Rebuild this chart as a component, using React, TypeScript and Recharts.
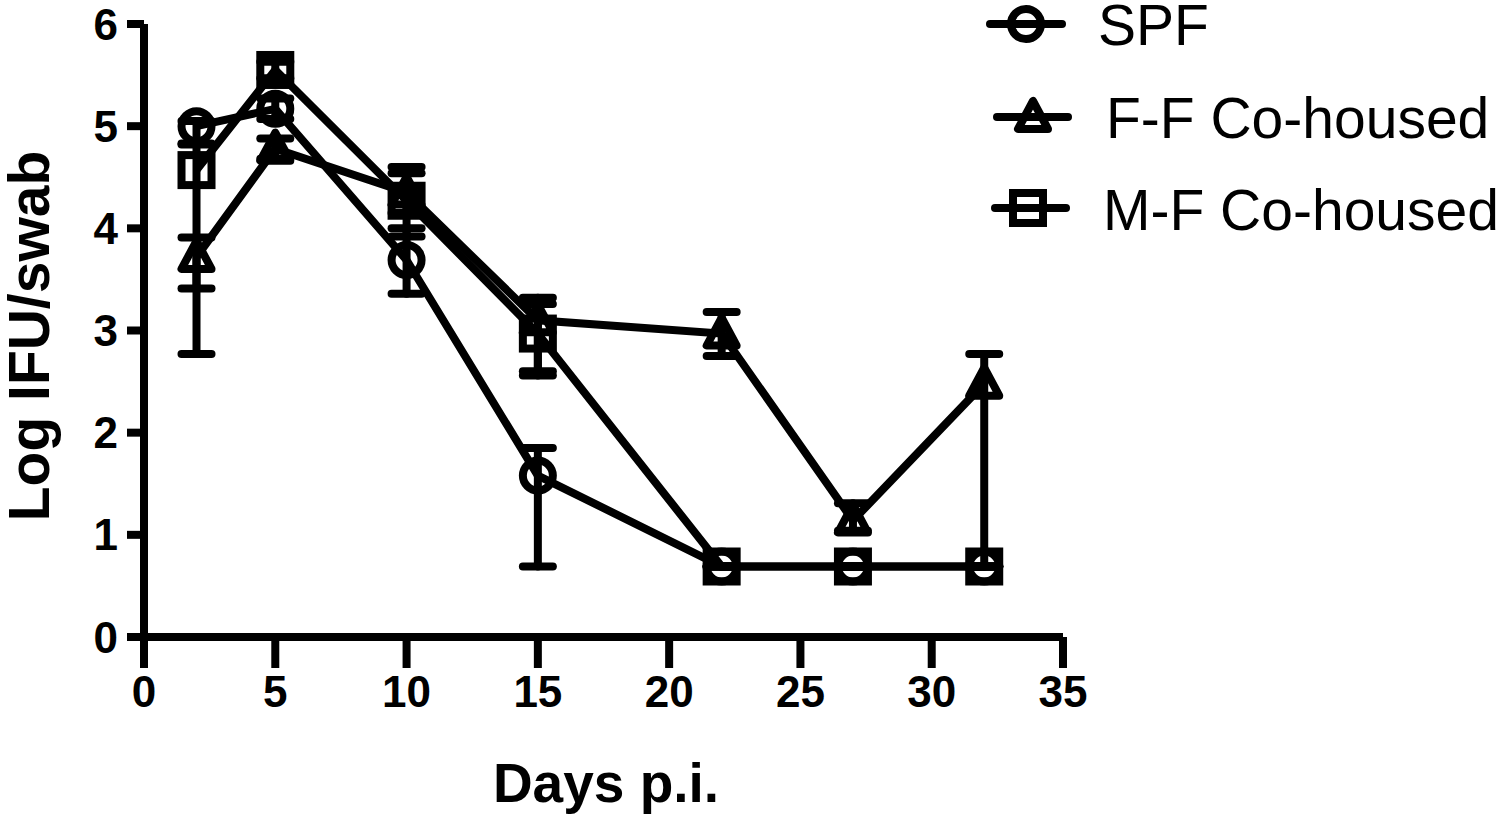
import { LineChart, Line, XAxis, YAxis, ErrorBar } from 'recharts';

const days = [2, 5, 10, 15, 22, 27, 32];
const xTicks = [0, 5, 10, 15, 20, 25, 30, 35];
const yTicks = [0, 1, 2, 3, 4, 5, 6];

// group means (log IFU/swab)
const spf = [5.0, 5.17, 3.69, 1.58, 0.69, 0.69, 0.69];
const ffCohoused = [3.72, 4.78, 4.35, 3.1, 2.97, 1.14, 2.48];
const mfCohoused = [4.57, 5.55, 4.27, 2.97, 0.69, 0.69, 0.69];

// error bars as [below, above]
const spfErr = [[0.17, 0.05], [0.1, 0.1], [0.33, 0.31], [0.89, 0.27], [0, 0], [0, 0], [0, 0]];
const ffErr = [[0.31, 0.19], [0.1, 0.1], [0.2, 0.19], [0.5, 0.16], [0.22, 0.21], [0.1, 0.17], [1.79, 0.29]];
const mfErr = [[1.8, 0.25], [0.08, 0.08], [0.35, 0.33], [0.41, 0.35], [0, 0], [0, 0], [0, 0]];

const rows = days.map((day, i) => ({
  day,
  spf: spf[i],
  spfErr: spfErr[i],
  ff: ffCohoused[i],
  ffErr: ffErr[i],
  mf: mfCohoused[i],
  mfErr: mfErr[i],
}));

const FONT = '"Liberation Sans", Arial, Helvetica, sans-serif';
const INK = '#000';

const Circle = ({ cx, cy }: { cx: number; cy: number }) => (
  <circle cx={cx} cy={cy} r={15} fill="none" stroke={INK} strokeWidth={8} />
);

const Triangle = ({ cx, cy }: { cx: number; cy: number }) => (
  <polygon
    points={`${cx},${cy - 16} ${cx - 15},${cy + 12} ${cx + 15},${cy + 12}`}
    fill="none"
    stroke={INK}
    strokeWidth={8}
    strokeLinejoin="round"
  />
);

const Square = ({ cx, cy }: { cx: number; cy: number }) => (
  <rect x={cx - 15} y={cy - 15} width={30} height={30} fill="none" stroke={INK} strokeWidth={8} />
);

const dotOf = (Shape: typeof Circle) => (p: any) => <Shape key={`d-${p.index}`} cx={p.cx} cy={p.cy} />;

const tickStyle = { fill: INK, fontSize: 44, fontWeight: 700, fontFamily: FONT };
const axisStroke = { stroke: INK, strokeWidth: 8 };

const legendItems = [
  { name: 'SPF', Shape: Circle, y: 24, cx: 1026, x1: 990, x2: 1062, tx: 1098, base: 45 },
  { name: 'F-F Co-housed', Shape: Triangle, y: 117, cx: 1033, x1: 997, x2: 1068, tx: 1106, base: 138 },
  { name: 'M-F Co-housed', Shape: Square, y: 208, cx: 1028, x1: 995, x2: 1066, tx: 1103, base: 230 },
];

export default function App() {
  return (
    <div style={{ position: 'absolute', left: 0, top: 0, width: 1500, height: 816, background: '#fff' }}>
      <LineChart width={1500} height={816} data={rows} margin={{ top: 24, right: 437, bottom: 80, left: 44 }}>
        <XAxis
          type="number"
          dataKey="day"
          domain={[0, 35]}
          ticks={xTicks}
          height={99}
          axisLine={axisStroke}
          tickLine={axisStroke}
          tickSize={31}
          tickMargin={8}
          tick={tickStyle}
          interval={0}
        />
        <YAxis
          type="number"
          domain={[0, 6]}
          ticks={yTicks}
          width={100}
          axisLine={axisStroke}
          tickLine={axisStroke}
          tickSize={17}
          tickMargin={9}
          tick={tickStyle}
          interval={0}
        />
        <Line dataKey="spf" stroke={INK} strokeWidth={8} dot={dotOf(Circle)} activeDot={false} isAnimationActive={false}>
          <ErrorBar dataKey="spfErr" direction="y" width={15} stroke={INK} strokeWidth={8} strokeLinecap="round" isAnimationActive={false} />
        </Line>
        <Line dataKey="ff" stroke={INK} strokeWidth={8} dot={dotOf(Triangle)} activeDot={false} isAnimationActive={false}>
          <ErrorBar dataKey="ffErr" direction="y" width={15} stroke={INK} strokeWidth={8} strokeLinecap="round" isAnimationActive={false} />
        </Line>
        <Line dataKey="mf" stroke={INK} strokeWidth={8} dot={dotOf(Square)} activeDot={false} isAnimationActive={false}>
          <ErrorBar dataKey="mfErr" direction="y" width={15} stroke={INK} strokeWidth={8} strokeLinecap="round" isAnimationActive={false} />
        </Line>
      </LineChart>

      <svg width={1500} height={816} style={{ position: 'absolute', left: 0, top: 0, pointerEvents: 'none' }}>
        <text x={606} y={802} textAnchor="middle" fontFamily={FONT} fontWeight={700} fontSize={55} fill={INK}>
          Days p.i.
        </text>
        <text
          x={49}
          y={336}
          transform="rotate(-90 49 336)"
          textAnchor="middle"
          fontFamily={FONT}
          fontWeight={700}
          fontSize={57}
          fill={INK}
        >
          Log IFU/swab
        </text>
        {legendItems.map(({ name, Shape, y, cx, x1, x2, tx, base }) => (
          <g key={name}>
            <line x1={x1} y1={y} x2={x2} y2={y} stroke={INK} strokeWidth={8} strokeLinecap="round" />
            <Shape cx={cx} cy={y} />
            <text x={tx} y={base} fontFamily={FONT} fontSize={57} fill={INK}>
              {name}
            </text>
          </g>
        ))}
      </svg>
    </div>
  );
}
